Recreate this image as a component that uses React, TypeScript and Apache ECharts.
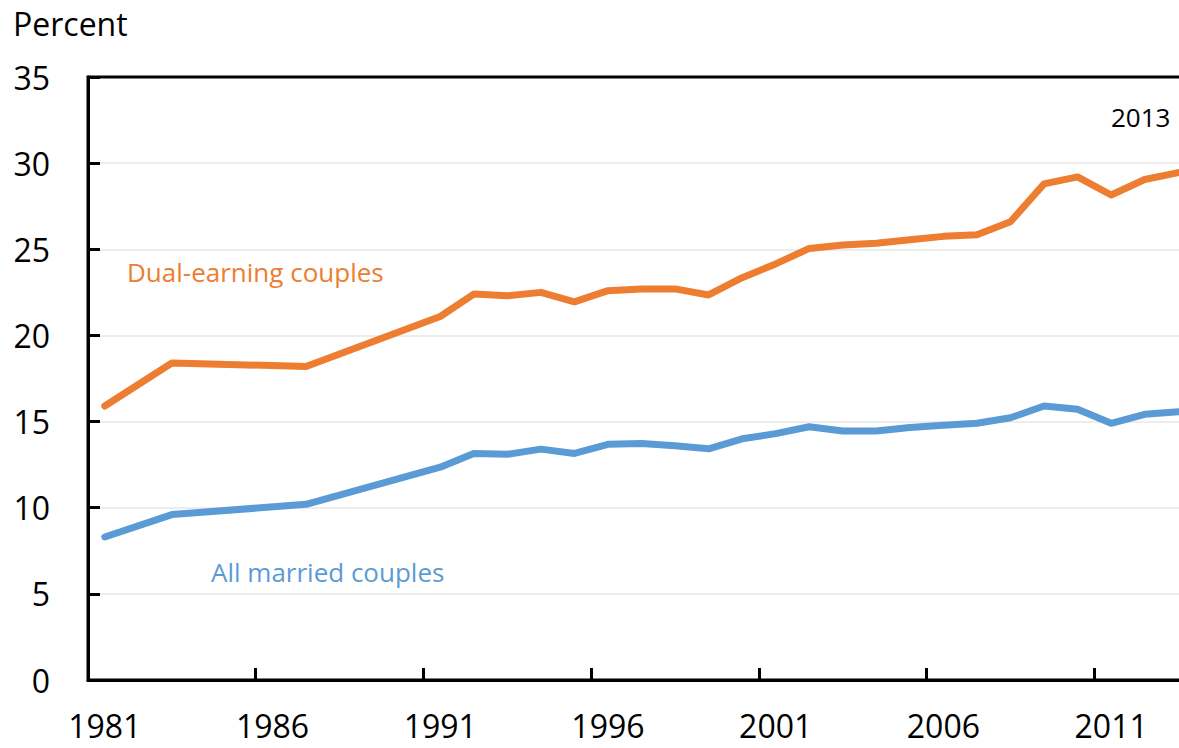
import React, { useEffect, useRef } from "react";
import * as echarts from "echarts";

const years: string[] = [
  "1981","1982","1983","1984","1985","1986","1987","1988","1989","1990",
  "1991","1992","1993","1994","1995","1996","1997","1998","1999","2000",
  "2001","2002","2003","2004","2005","2006","2007","2008","2009","2010",
  "2011","2012","2013",
];

// Missing survey years are null and joined by the line (connectNulls)
const dualEarning: (number | null)[] = [
  15.9, null, 18.4, null, null, null, 18.2, null, null, null,
  21.1, 22.4, 22.3, 22.5, 21.95, 22.6, 22.7, 22.7, 22.35, 23.35,
  24.15, 25.05, 25.25, 25.35, 25.55, 25.75, 25.85, 26.6, 28.8, 29.2,
  28.15, 29.05, 29.45,
];

const allMarried: (number | null)[] = [
  8.3, null, 9.6, null, null, null, 10.2, null, null, null,
  12.35, 13.15, 13.1, 13.4, 13.15, 13.68, 13.73, 13.6, 13.42, 14.0,
  14.3, 14.7, 14.45, 14.45, 14.65, 14.78, 14.9, 15.22, 15.9, 15.72,
  14.9, 15.42, 15.57,
];

const FONT = "'Open Sans', 'Noto Sans', sans-serif";
const ORANGE = "#ED7D31";
const BLUE = "#5B9BD5";

export default function App() {
  const ref = useRef<HTMLDivElement>(null);
  useEffect(() => {
    if (!ref.current) return;
    const chart = echarts.init(ref.current, null, { renderer: "svg" });
    chart.setOption({
      animation: false,
      backgroundColor: "#ffffff",
      grid: {
        left: 88,
        top: 77,
        width: 1107,
        bottom: 68,
        outerBoundsMode: "none",
        containLabel: false,
        show: true,
        borderColor: "#000000",
        borderWidth: 3,
        backgroundColor: "transparent",
      },
      xAxis: {
        type: "category",
        data: years,
        boundaryGap: true,
        axisLine: { show: true, lineStyle: { color: "#000000", width: 3 } },
        axisTick: {
          show: true,
          inside: true,
          length: 12,
          interval: 4,
          lineStyle: { color: "#000000", width: 3 },
        },
        axisLabel: {
          interval: 4,
          margin: 29,
          color: "#000000",
          fontSize: 32,
          fontFamily: FONT,
        },
        splitLine: { show: false },
      },
      yAxis: {
        type: "value",
        min: 0,
        max: 35,
        interval: 5,
        axisLine: { show: true, lineStyle: { color: "#000000", width: 3 } },
        axisTick: {
          show: true,
          inside: true,
          length: 12,
          lineStyle: { color: "#000000", width: 3 },
        },
        axisLabel: {
          margin: 38,
          color: "#000000",
          fontSize: 32,
          fontFamily: FONT,
        },
        splitLine: {
          show: true,
          showMinLine: false,
          showMaxLine: false,
          lineStyle: { color: "#EDEDED", width: 2 },
        },
      },
      series: [
        {
          name: "Dual-earning couples",
          type: "line",
          data: dualEarning,
          connectNulls: true,
          showSymbol: false,
          symbol: "none",
          lineStyle: { color: ORANGE, width: 7, cap: "round", join: "round" },
          itemStyle: { color: ORANGE },
        },
        {
          name: "All married couples",
          type: "line",
          data: allMarried,
          connectNulls: true,
          showSymbol: false,
          symbol: "none",
          lineStyle: { color: BLUE, width: 7, cap: "round", join: "round" },
          itemStyle: { color: BLUE },
        },
      ],
      graphic: [
        {
          type: "text",
          left: 13,
          top: 7,
          style: { text: "Percent", fontSize: 32, fontFamily: FONT, fill: "#000000" },
        },
        {
          type: "text",
          left: 127,
          top: 259,
          style: { text: "Dual-earning couples", fontSize: 26, fontFamily: FONT, fill: ORANGE },
        },
        {
          type: "text",
          left: 211,
          top: 559,
          style: { text: "All married couples", fontSize: 26, fontFamily: FONT, fill: BLUE },
        },
        {
          type: "text",
          left: 1111,
          top: 104,
          style: { text: "2013", fontSize: 26, fontFamily: FONT, fill: "#000000" },
        },
      ],
    });
    return () => chart.dispose();
  }, []);
  return (
    <div
      ref={ref}
      style={{ position: "absolute", left: 0, top: 0, width: 1179, height: 748 }}
    />
  );
}
